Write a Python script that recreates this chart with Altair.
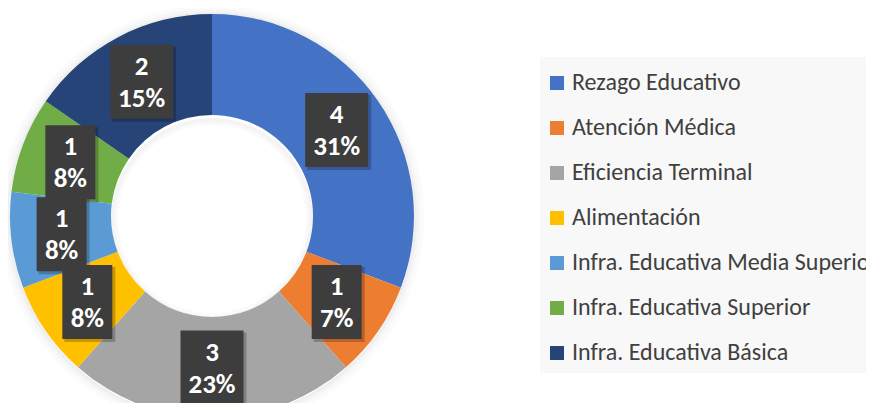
import altair as alt
import pandas as pd

categories = ["Rezago Educativo", "Atención Médica", "Eficiencia Terminal", "Alimentación",
              "Infra. Educativa Media Superior", "Infra. Educativa Superior", "Infra. Educativa Básica"]
values = [4, 1, 3, 1, 1, 1, 2]
pct_labels = ["31%", "7%", "23%", "8%", "8%", "8%", "15%"]
colors = ["#4472C4", "#ED7D31", "#A5A5A5", "#FFC000", "#5B9BD5", "#70AD47", "#264478"]

df = pd.DataFrame({"idx": range(len(categories)), "cat": categories,
                   "value": values, "pct": pct_labels})

CX, CY = 204, 208
R_OUT, R_IN = 202, 101
R_LAB = (R_OUT + R_IN) / 2
FONT = "Carlito, Lato"

base = alt.Chart(df)

color_scale = alt.Scale(domain=categories, range=colors)

legend_bg = alt.Chart(pd.DataFrame({"k": [0]})).mark_rect(color="#f8f8f8").encode(
    x=alt.value(532), x2=alt.value(880), y=alt.value(49), y2=alt.value(365))

donut = base.mark_arc(radius=R_OUT, radius2=R_IN, strokeWidth=0).encode(
    theta=alt.Theta("value:Q", stack=True),
    order=alt.Order("idx:Q"),
    color=alt.Color("cat:N", scale=color_scale, sort=categories,
                    legend=alt.Legend(orient="none", legendX=537, legendY=63, title=None,
                                      symbolType="square", symbolSize=196, symbolStrokeWidth=0,
                                      labelFontSize=24, labelFont=FONT, labelColor="#404040",
                                      rowPadding=21, padding=0,
                                      labelLimit=500, labelOffset=3)),
    x=alt.value(CX), y=alt.value(CY),
)

# soft shadow rings around the donut
shadow_df = pd.DataFrame({"k": [0]})
rings = []
for r1, r2, op, dyy in [(202, 205, 0.06, 1), (202, 208, 0.04, 1), (202, 212, 0.03, 1),
                        (94, 101, 0.04, 3), (97, 101, 0.05, 3)]:
    rings.append(alt.Chart(shadow_df).mark_arc(radius=r2, radius2=r1, theta=0, theta2=6.2832,
                                               color="#808080", opacity=op)
                 .encode(x=alt.value(CX), y=alt.value(CY + dyy)))

lab = base.transform_window(
    cum="sum(value)", sort=[alt.SortField("idx")]
).transform_joinaggregate(
    total="sum(value)"
).transform_calculate(
    ang="(datum.cum - datum.value/2) / datum.total * 2 * PI",
    cx=f"{CX} + {R_LAB} * sin(datum.ang)",
    cy=f"{CY} - {R_LAB} * cos(datum.ang)",
    w="length(datum.pct) > 2 ? 63 : 50",
    x1="datum.cx - datum.w/2", x2="datum.cx + datum.w/2",
    y1="datum.cy - 37", y2="datum.cy + 37",
    sx1="datum.x1 + 2", sx2="datum.x2 + 3", sy1="datum.y1 + 2", sy2="datum.y2 + 3",
)

box_shadow = lab.mark_rect(color="black", opacity=0.22).encode(
    x=alt.X("sx1:Q", scale=None), x2="sx2:Q",
    y=alt.Y("sy1:Q", scale=None), y2="sy2:Q")
box = lab.mark_rect(color="#3d3d3d").encode(
    x=alt.X("x1:Q", scale=None), x2="x2:Q",
    y=alt.Y("y1:Q", scale=None), y2="y2:Q")
t_val = lab.mark_text(font=FONT, fontSize=27, fontWeight="bold", color="white",
                      baseline="middle", dy=-15).encode(
    x=alt.X("cx:Q", scale=None), y=alt.Y("cy:Q", scale=None), text="value:Q")
t_pct = lab.mark_text(font=FONT, fontSize=27, fontWeight="bold", color="white",
                      baseline="middle", dy=17).encode(
    x=alt.X("cx:Q", scale=None), y=alt.Y("cy:Q", scale=None), text="pct:N")

chart = alt.layer(legend_bg, *rings, donut, box_shadow, box, t_val, t_pct).properties(
    width=858, height=395, padding=0, autosize="none", background="white"
).configure_view(stroke=None)

chart.save("out.html", embed_options={"renderer": "svg", "actions": False})
